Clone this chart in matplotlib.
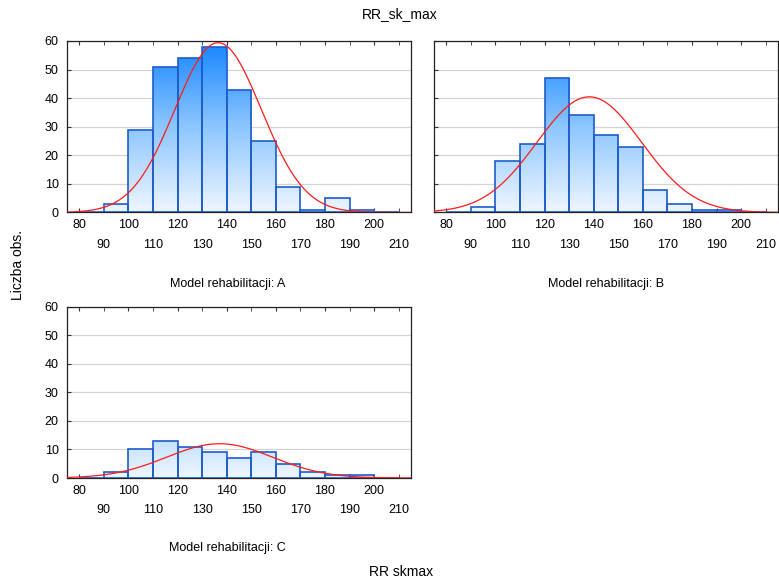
import numpy as np
import matplotlib
matplotlib.use('Agg')
import matplotlib.pyplot as plt
from matplotlib.colors import LinearSegmentedColormap
from matplotlib.ticker import FixedLocator, NullFormatter

plt.rcParams['font.family'] = ['Liberation Sans', 'DejaVu Sans']

# bin edges (width 10)
binEdges = [80, 90, 100, 110, 120, 130, 140, 150, 160, 170, 180, 190, 200, 210]

# counts per bin
countsA = [0, 3, 29, 51, 54, 58, 43, 25, 9, 1, 5, 1, 0]
countsB = [0, 2, 18, 24, 47, 34, 27, 23, 8, 3, 1, 1, 0]
countsC = [0, 2, 10, 13, 11, 9, 7, 9, 5, 2, 1, 1, 0]

# fitted normal curve: n, mean, sd
fitA = (262, 136.5, 17.6)
fitB = (216, 138.2, 21.3)
fitC = (65, 137.1, 21.6)

panelTitles = ['Model rehabilitacji: A', 'Model rehabilitacji: B', 'Model rehabilitacji: C']
majorTicks = [80, 100, 120, 140, 160, 180, 200]
minorTicks = [90, 110, 130, 150, 170, 190, 210]
yTicks = [0, 10, 20, 30, 40, 50, 60]

cmap = LinearSegmentedColormap.from_list('bars', ['#eef6ff', '#8cc6ff', '#1384ff'])


def drawPanel(ax, counts, fit, showYLabels):
    ax.set_xlim(75, 215)
    ax.set_ylim(0, 60)
    ax.set_yticks(yTicks)
    ax.grid(axis='y', color='#d4d4d4', lw=0.9, zorder=0)
    ax.set_axisbelow(True)
    grad = np.linspace(0, 1, 256).reshape(-1, 1)
    bars = ax.bar(binEdges[:-1], counts, width=10, align='edge', facecolor='none',
                  edgecolor='#1d5ccc', lw=1.2, zorder=3)
    for b in bars:
        im = ax.imshow(grad, cmap=cmap, origin='lower', aspect='auto',
                       extent=(75, 215, 0, 60), zorder=2, interpolation='bilinear')
        im.set_clip_path(b)
    n, mu, sd = fit
    xs = np.linspace(75, 215, 400)
    ys = n * 10 / (sd * np.sqrt(2 * np.pi)) * np.exp(-0.5 * ((xs - mu) / sd) ** 2)
    ax.plot(xs, ys, color='#ff1a1a', lw=0.9, zorder=4)
    ax.set_xlim(75, 215)
    ax.set_ylim(0, 60)
    ax.xaxis.set_major_locator(FixedLocator(majorTicks))
    ax.xaxis.set_minor_locator(FixedLocator(minorTicks))
    ax.xaxis.set_minor_formatter(lambda v, p: '%d' % v)
    ax.tick_params(axis='x', which='both', direction='in', top=True, length=3,
                   labelsize=9, color='#333333')
    ax.tick_params(axis='x', which='major', pad=5)
    ax.tick_params(axis='x', which='minor', pad=19)
    ax.tick_params(axis='y', direction='in', length=3, labelsize=9, pad=6, color='#333333')
    if not showYLabels:
        ax.set_yticklabels([])
    for s in ax.spines.values():
        s.set_color('#222222')
        s.set_linewidth(0.9)


fig = plt.figure(figsize=(7.79, 5.85), dpi=100)
axA = fig.add_axes([0.0860, 0.6368, 0.4416, 0.2932])
axB = fig.add_axes([0.5571, 0.6368, 0.4416, 0.2932])
axC = fig.add_axes([0.0860, 0.1829, 0.4416, 0.2928])

drawPanel(axA, countsA, fitA, True)
drawPanel(axB, countsB, fitB, False)
drawPanel(axC, countsC, fitC, True)

fig.text(0.2927, 0.5145, panelTitles[0], ha='center', va='center', fontsize=9)
fig.text(0.778, 0.5145, panelTitles[1], ha='center', va='center', fontsize=9)
fig.text(0.2914, 0.0632, panelTitles[2], ha='center', va='center', fontsize=9)
fig.text(0.5135, 0.976, 'RR_sk_max', ha='center', va='center', fontsize=10)
fig.text(0.5148, 0.0222, 'RR skmax', ha='center', va='center', fontsize=10)
fig.text(0.0231, 0.547, 'Liczba obs.', ha='center', va='center', fontsize=10, rotation=90)

fig.savefig('out.png', dpi=100)
